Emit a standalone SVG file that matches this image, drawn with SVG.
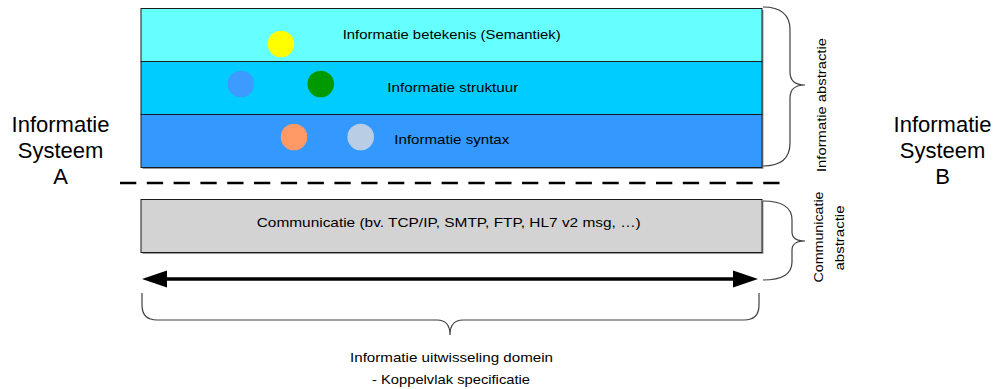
<svg xmlns="http://www.w3.org/2000/svg" width="995" height="389" viewBox="0 0 995 389">
  <style>
    .lbl { font-family: "Liberation Sans", Arial, sans-serif; font-size: 13.5px; fill: #000; }
    .big { font-family: "Liberation Sans", Arial, sans-serif; font-size: 22px; fill: #000; text-anchor: middle; }
    .layer { stroke: #1a1a1a; stroke-width: 1; }
    .brace { fill: none; stroke: #404040; stroke-width: 1.2; }
  </style>

  <rect width="995" height="389" fill="#ffffff"/>

  <!-- layer stack -->
  <g id="layer-shadow">
    <rect x="142.5" y="10" width="621" height="159" fill="#9a9a9a"/>
    <rect x="142.5" y="201" width="621" height="53" fill="#9a9a9a"/>
  </g>
  <g id="semantiek">
    <rect class="layer" x="141" y="8.5" width="621" height="53" fill="#66ffff"/>
    <text class="lbl" x="342.7" y="38.5" textLength="218" lengthAdjust="spacingAndGlyphs">Informatie betekenis (Semantiek)</text>
  </g>
  <g id="struktuur">
    <rect class="layer" x="141" y="61.5" width="621" height="53" fill="#00ccff"/>
    <text class="lbl" x="387.3" y="92" textLength="131" lengthAdjust="spacingAndGlyphs">Informatie struktuur</text>
  </g>
  <g id="syntax">
    <rect class="layer" x="141" y="114.5" width="621" height="53" fill="#3399ff"/>
    <text class="lbl" x="394.3" y="144.3" textLength="115" lengthAdjust="spacingAndGlyphs">Informatie syntax</text>
  </g>

  <!-- data items -->
  <g id="items">
    <circle cx="281" cy="44" r="13.3" fill="#ffff00"/>
    <circle cx="241" cy="84" r="13.3" fill="#3d9bff"/>
    <circle cx="320.7" cy="84" r="13.3" fill="#009900"/>
    <circle cx="294" cy="137" r="13.3" fill="#ff9966"/>
    <circle cx="360.7" cy="137" r="13.3" fill="#b9cde5"/>
  </g>

  <g id="communicatie">
    <rect class="layer" x="141" y="199.5" width="621" height="53" fill="#d3d3d3"/>
    <text class="lbl" x="256.7" y="227.3" textLength="384" lengthAdjust="spacingAndGlyphs">Communicatie (bv. TCP/IP, SMTP, FTP, HL7 v2 msg, …)</text>
  </g>

  <g id="systeem-a">
    <text class="big" x="60.5" y="131.5">Informatie</text>
    <text class="big" x="60.5" y="158">Systeem</text>
    <text class="big" x="60.5" y="184">A</text>
  </g>
  <g id="systeem-b">
    <text class="big" x="942.5" y="131.5">Informatie</text>
    <text class="big" x="942.5" y="158">Systeem</text>
    <text class="big" x="942.5" y="184">B</text>
  </g>

  <g id="connectors">
    <!-- boundary between information and communication -->
    <line x1="120" y1="183" x2="780" y2="183" stroke="#000" stroke-width="2.5" stroke-dasharray="16.3 10.5"/>
    <!-- exchange arrow -->
    <line x1="165" y1="279" x2="735" y2="279" stroke="#000" stroke-width="3.5"/>
    <polygon points="142,279 167,270.5 167,287.5" fill="#000"/>
    <polygon points="758,279 733,270.5 733,287.5" fill="#000"/>
    <!-- braces -->
    <path class="brace" d="M763,7 Q790,7 790,30 L790,72 Q790,85 805,85 Q790,85 790,98 L790,143 Q790,166 763,166"/>
    <path class="brace" d="M763,201 Q792,201 792,220 L792,232 Q792,241 805,241 Q792,241 792,250 L792,262 Q792,280 763,280"/>
    <path class="brace" d="M142,293 L142,305 Q142,320 157,320 L437,320 Q450,320 450,335 Q450,320 463,320 L744,320 Q759,320 759,305 L759,293"/>
  </g>

  <g id="brace-labels">
    <text class="lbl" text-anchor="middle" transform="translate(826,105) rotate(-90)" textLength="134" lengthAdjust="spacingAndGlyphs">Informatie abstractie</text>
    <text class="lbl" text-anchor="middle" transform="translate(823,237) rotate(-90)" textLength="91" lengthAdjust="spacingAndGlyphs">Communicatie</text>
    <text class="lbl" text-anchor="middle" transform="translate(844,238) rotate(-90)" textLength="65" lengthAdjust="spacingAndGlyphs">abstractie</text>
    <text class="lbl" x="350" y="362" textLength="203" lengthAdjust="spacingAndGlyphs">Informatie uitwisseling domein</text>
    <text class="lbl" x="372" y="384" textLength="158" lengthAdjust="spacingAndGlyphs">- Koppelvlak specificatie</text>
  </g>
</svg>
